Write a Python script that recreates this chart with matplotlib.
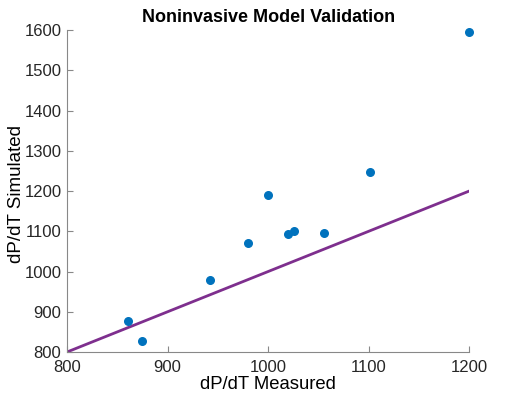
import matplotlib
matplotlib.use('Agg')
import matplotlib.pyplot as plt

measured = [861, 875, 942, 980, 1000, 1020, 1026, 1056, 1101, 1200]
simulated = [877, 827, 979, 1072, 1191, 1094, 1100, 1097, 1248, 1595]
line_x = [800, 1200]
line_y = [800, 1200]
xticks = [800, 900, 1000, 1100, 1200]
yticks = [800, 900, 1000, 1100, 1200, 1300, 1400, 1500, 1600]

plt.rcParams['font.family'] = ['Liberation Sans', 'DejaVu Sans']

fig = plt.figure(figsize=(5.19, 3.96), dpi=100)
ax = fig.add_axes([0.129, 0.111, 0.775, 0.813])

ax.plot(line_x, line_y, color='#7E2F8E', lw=2)
ax.scatter(measured, simulated, s=30, color='#0072BD', zorder=3, clip_on=False)

ax.set_xlim(800, 1200)
ax.set_ylim(800, 1600)
ax.set_xticks(xticks)
ax.set_yticks(yticks)
ax.tick_params(direction='in', length=4, color='#888888', labelsize=12,
               labelcolor='#262626')
ax.tick_params(axis='x', pad=6)
ax.tick_params(axis='y', pad=4)
for s in ['top', 'right']:
    ax.spines[s].set_visible(False)
for s in ['left', 'bottom']:
    ax.spines[s].set_color('#888888')
    ax.spines[s].set_linewidth(0.8)

ax.set_xlabel('dP/dT Measured', fontsize=13.3)
ax.set_ylabel('dP/dT Simulated', fontsize=13.5)
ax.xaxis.set_label_coords(0.5, -0.075)
ax.yaxis.set_label_coords(-0.104, 0.49)
ax.set_title('Noninvasive Model Validation', fontsize=13, fontweight='bold', pad=6)

plt.savefig('out.png', dpi=100)
